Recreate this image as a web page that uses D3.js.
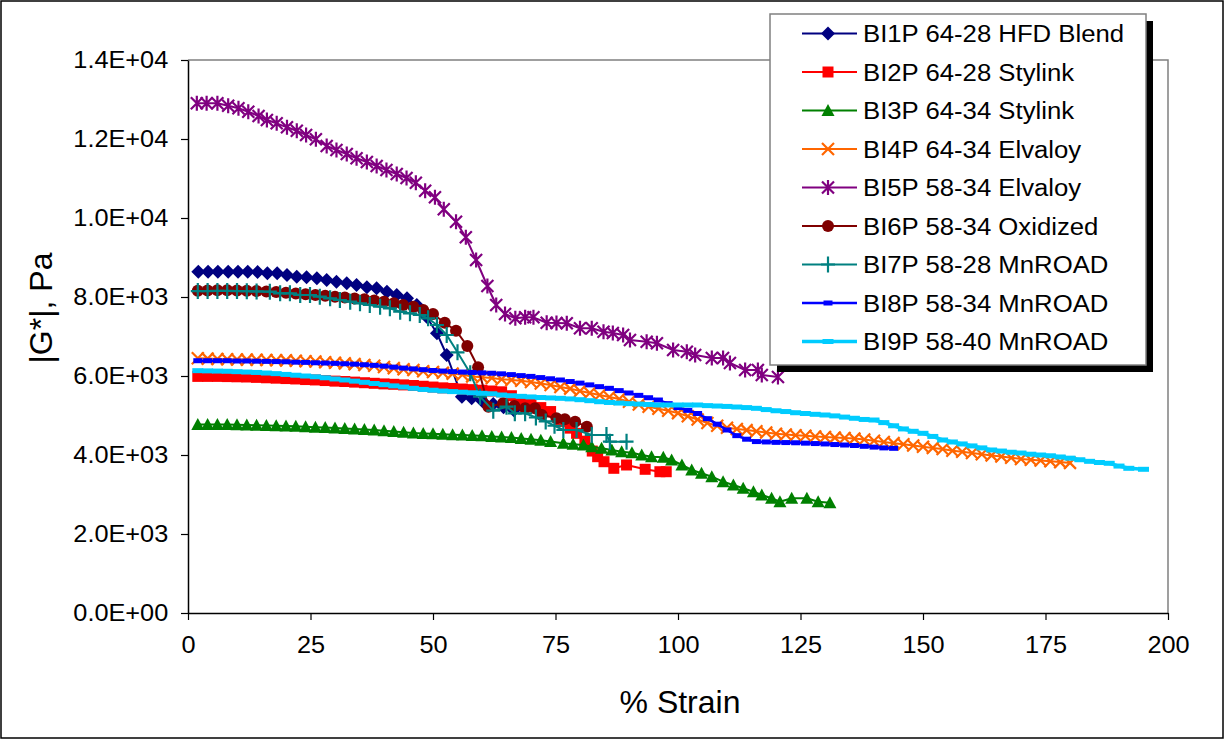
<!DOCTYPE html>
<html>
<head>
<meta charset="utf-8">
<script src="https://cdn.jsdelivr.net/npm/d3@7"></script>
<style>
  body { margin: 0; background: #fff; }
  svg text { font-family: "Liberation Sans", Arial, sans-serif; fill: #000; }
</style>
</head>
<body>
<svg class="chart" width="1225" height="740"></svg>
<script>
"use strict";
// tick values
var xTicks = [0, 25, 50, 75, 100, 125, 150, 175, 200];
var yTicks = [0, 2000, 4000, 6000, 8000, 10000, 12000, 14000];

// series names (legend order)
var seriesNames = ["BI1P 64-28 HFD Blend", "BI2P 64-28 Stylink", "BI3P 64-34 Stylink", "BI4P 64-34 Elvaloy",
  "BI5P 58-34 Elvaloy", "BI6P 58-34 Oxidized", "BI7P 58-28 MnROAD", "BI8P 58-34 MnROAD", "BI9P 58-40 MnROAD"];
var seriesColors = ["#000080", "#ff0000", "#008000", "#ff6600", "#800080", "#800000", "#008080", "#0000ff", "#00ccff"];
var seriesMarkers = ["diamond", "square", "triangle", "x", "star", "circle", "plus", "dash", "dash2"];

// [% strain, |G*| Pa]
var bi1p = [[2.1,8641],[4.1,8641],[6.1,8641],[8.2,8641],[10.2,8641],[12.2,8641],[14.2,8630],[16.2,8599],[18.2,8599],[20.2,8557],
  [22.2,8514],[24.2,8499],[26.3,8473],[28.3,8430],[30.3,8387],[32.4,8346],[34.4,8304],[36.5,8245],[38.5,8220],[40.6,8135],
  [42.6,8051],[44.7,7967],[46.7,7797],[48.7,7501],[50.8,7081],[52.8,6532],[55.9,5477],[57.9,5435],[60.1,5360],[62.3,5290],
  [64.4,5210],[66.5,5130]];
var bi2p = [[2,5990],[4,5990],[6,5990],[8,5985],[10,5980],[12,5975],[14,5965],[16,5955],[18,5945],[20,5935],[22,5925],[24,5910],
  [26,5900],[28,5885],[30,5870],[32,5860],[34,5845],[36,5830],[38,5815],[40,5800],[42,5790],[44,5775],[46,5760],[48,5740],
  [50,5720],[52,5700],[54,5685],[56,5670],[58,5655],[60,5640],[62,5620],[64,5600],[66,5500],[68,5400],[70,5300],[72,5200],
  [74,5100],[76,4850],[78,4680],[79.3,4549],[81,4350],[82.5,4100],[83.6,3957],[84.9,3830],[86.9,3663],[89.5,3747],[93.3,3638],
  [96.3,3577],[97.6,3577]];
var bi3p = [[2,4770],[4,4770],[6,4770],[8,4770],[10,4765],[12,4760],[14,4755],[16,4750],[18,4740],[20,4735],[22,4725],[24,4715],
  [26,4705],[28,4695],[30,4685],[32,4670],[34,4660],[36,4645],[38,4630],[40,4615],[42,4595],[44,4575],[46,4557],[48,4545],
  [50,4535],[52,4525],[54,4515],[56,4505],[58,4495],[60,4485],[62,4470],[64,4456],[66,4440],[68,4420],[70,4400],[72,4375],
  [74,4340],[76.6,4296],[78.6,4270],[80.7,4253],[82.4,4210],[84.4,4169],[86.5,4127],[88.5,4084],[90.6,4058],[92.6,4000],
  [94.6,3957],[97,3942],[98.7,3873],[100.8,3747],[102.8,3620],[104.8,3537],[106.9,3451],[109.2,3324],[111.3,3241],[113.3,3157],
  [115.4,3071],[117.1,2987],[119.1,2904],[120.8,2818],[123.2,2904],[126.3,2904],[128.6,2818],[131,2792]];
var bi4p = [[2,6450],[4,6440],[6,6430],[8,6425],[10,6420],[12,6415],[14,6410],[16,6405],[18,6400],[20,6395],[22,6385],[24,6375],
  [26,6365],[28,6350],[30,6335],[32,6320],[34,6300],[36,6280],[38,6260],[40,6230],[42,6200],[44,6170],[46,6150],[48,6120],
  [50,6100],[52,6080],[54,6060],[56,6030],[58,5990],[60,5970],[62,5950],[64,5920],[66,5900],[68,5880],[70,5850],[72,5810],
  [74,5770],[76,5720],[78,5680],[80,5620],[82,5570],[84,5519],[86,5470],[88,5420],[90,5350],[92,5280],[94,5220],[96,5170],
  [98,5120],[100,5060],[102,4980],[104,4900],[106,4810],[108,4740],[110,4690],[112,4660],[114,4630],[116,4600],[118,4570],
  [120,4540],[122,4520],[124,4500],[126,4485],[128,4470],[130,4455],[132,4440],[134,4430],[136,4415],[138,4390],[140,4360],
  [142,4330],[144,4300],[146,4270],[148,4240],[150,4210],[152,4180],[154,4150],[156,4110],[158,4080],[160,4050],[162,4020],
  [164,3990],[166,3960],[168,3930],[170,3900],[172,3880],[174,3860],[176,3840],[178,3820],[180,3800]];
var bi5p = [[1.8,12904],[3.8,12904],[6,12904],[8.2,12843],[10.3,12777],[12.3,12691],[14.4,12582],[16.1,12481],[18.1,12397],
  [20.2,12296],[22.2,12210],[24.1,12101],[26.1,11992],[28.3,11823],[30.3,11722],[32.4,11620],[34.4,11511],[36.5,11418],
  [38.5,11316],[40.5,11215],[42.6,11114],[44.6,11013],[46.5,10894],[48.4,10691],[50.4,10524],[52.2,10220],[54.7,9906],
  [56.7,9511],[58.8,8937],[61.1,8278],[62.9,7797],[64.7,7570],[66.8,7461],[68.8,7486],[70.5,7486],[73.2,7349],[75.2,7342],
  [77.3,7334],[80,7208],[82.4,7208],[84.8,7122],[86.7,7089],[88.8,7038],[90.2,6911],[93.6,6868],[95.7,6828],[99,6658],
  [101.8,6615],[103.5,6532],[106.9,6456],[109.2,6456],[110.6,6329],[113.7,6152],[116.3,6152],[117.1,6025],[120.4,5975]];
var bi6p = [[2,8160],[4,8165],[6,8170],[8,8170],[10,8165],[12,8160],[14,8150],[16,8140],[18,8125],[20,8110],[22,8090],[24,8070],
  [26,8050],[28,8030],[30,8008],[32,7985],[34,7960],[36,7941],[38,7910],[40,7881],[42,7840],[43.9,7797],[46,7755],[48,7671],
  [50,7570],[52.4,7349],[54.7,7147],[57,6759],[59.2,6220],[61.3,5223],[64.3,5308],[66.6,5240],[68.8,5182],[70.8,5182],
  [72.2,5013],[75.2,4929],[76.9,4904],[79,4843],[81.4,4716]];
var bi7p = [[2,8150],[4,8150],[6,8155],[8,8155],[10,8150],[12,8145],[14,8140],[16.7,8134],[18.8,8093],[20.8,8093],[22.9,8051],
  [24.9,8051],[26.9,8008],[29,7967],[31,7924],[33.1,7881],[35.1,7840],[37.1,7797],[39.2,7755],[41.2,7714],[43.3,7628],
  [45.3,7587],[47.3,7544],[49,7461],[50.8,7291],[52.8,7038],[55,6600],[57.6,6068],[59.6,5477],[62.3,5122],[65,5223],
  [66.7,5056],[68.8,5056],[71,4950],[73,4850],[74.8,4740],[76.6,4633],[79.3,4633],[82.4,4506],[85.4,4506],[86.1,4337],[89.5,4337]];
var bi8p = [[2,6387],[4,6387],[6,6387],[8,6387],[10,6380],[12,6380],[14,6375],[16,6370],[18,6365],[20,6360],[22,6350],[24,6345],
  [26,6335],[28,6328],[30,6320],[32,6310],[34,6300],[36,6285],[38,6270],[40,6250],[42,6225],[44,6200],[46,6180],[48,6160],
  [50,6140],[52,6125],[54,6110],[56,6100],[58,6090],[60,6080],[62,6070],[64,6055],[66,6035],[68,6010],[70,5990],[72,5960],
  [74,5930],[76,5899],[78,5860],[80,5820],[82,5775],[84,5730],[86,5688],[88,5630],[90,5570],[92,5510],[94,5450],[96,5392],
  [98,5300],[100,5200],[102,5130],[104,5050],[106,4920],[108,4780],[110,4633],[112,4490],[114,4400],[116,4340],[118,4330],
  [120,4320],[122,4315],[124,4310],[126,4300],[128,4290],[130,4280],[132,4265],[134,4253],[136,4240],[138,4220],[140,4200],
  [142,4180],[144,4169]];
var bi9p = [[2,6135],[4,6130],[6,6125],[8,6120],[10,6110],[12,6100],[14,6090],[16,6075],[18,6060],[20,6040],[22,6020],[24,6000],
  [26,5980],[28,5955],[30,5925],[32,5899],[34,5870],[36,5840],[38,5810],[40,5780],[42,5750],[44,5720],[46,5688],[48,5660],
  [50,5640],[52,5620],[54,5605],[56,5590],[58,5575],[60,5562],[62,5550],[64,5519],[66,5500],[68,5485],[70,5470],[72,5455],
  [74,5445],[76,5435],[78,5420],[80,5400],[82,5375],[84,5349],[86,5330],[88,5315],[90,5300],[92,5290],[94,5280],[96,5266],
  [98,5266],[100,5266],[102,5266],[104,5266],[106,5250],[108,5240],[110,5230],[112,5215],[114,5200],[116,5182],[118,5150],
  [120,5120],[122,5100],[124,5070],[126,5050],[128,5030],[130,5013],[132,4990],[134,4960],[136,4930],[138,4900],[140,4886],
  [142,4820],[144,4740],[146,4660],[148,4600],[150,4549],[152,4470],[154,4380],[156,4330],[158,4280],[160,4230],[162,4180],
  [164,4127],[166,4100],[168,4070],[170,4050],[172,4020],[174,4000],[176,3980],[178,3950],[180,3920],[182,3880],[184,3840],
  [186,3810],[188,3790],[190,3720],[192,3663],[195,3638]];
var seriesData = [bi1p, bi2p, bi3p, bi4p, bi5p, bi6p, bi7p, bi8p, bi9p];

var svg = d3.select(".chart");
var plotLeft = 188, plotRight = 1168, plotTop = 60, plotBottom = 613;

var x = d3.scaleLinear().domain([0, 200]).range([plotLeft, plotRight]);
var y = d3.scaleLinear().domain([0, 14000]).range([plotBottom, plotTop]);

// 2000 -> "2.0E+03"
function sci(v) {
	if (v === 0) return "0.0E+00";
	var e = Math.floor(Math.log10(v));
	return (v / Math.pow(10, e)).toFixed(1) + "E+" + String(e).padStart(2, "0");
}

// marker shapes, centred on 0,0
var markerPaths = {
	diamond: "M0,-7L7,0L0,7L-7,0Z",
	square: "M-5.5,-5.5h11v11h-11Z",
	triangle: "M0,-6.5L6.5,5.5L-6.5,5.5Z",
	circle: "M-6,0a6,6 0 1,0 12,0a6,6 0 1,0 -12,0",
	x: "M-6,-6L6,6M-6,6L6,-6",
	star: "M-6,-6L6,6M-6,6L6,-6M0,-7.5V7.5",
	plus: "M-7,0H7M0,-8V8",
	dash: "M-4.5,-2.5h9v5h-9Z",
	dash2: "M-5.5,-2.5h11v5h-11Z"
};
var strokeMarkers = {x: true, star: true, plus: true};
var lineWidths = [2, 2, 2, 2, 2, 2, 2, 2.5, 3.5];

function styleMarker(sel, i) {
	var m = seriesMarkers[i];
	sel.attr("d", markerPaths[m])
		.attr("fill", strokeMarkers[m] ? "none" : seriesColors[i])
		.attr("stroke", strokeMarkers[m] ? seriesColors[i] : "none")
		.attr("stroke-width", 2.2);
}

// outer frame
svg.append("rect")
	.attr("x", 1).attr("y", 1)
	.attr("width", 1222).attr("height", 737)
	.attr("fill", "none").attr("stroke", "#000").attr("stroke-width", 1.5);

// plot area border (top / right in gray)
svg.append("path")
	.attr("d", "M" + plotLeft + "," + plotTop + "H" + plotRight + "V" + plotBottom)
	.attr("fill", "none").attr("stroke", "#808080").attr("stroke-width", 1.5);

// axes
var yAxis = svg.append("g")
	.attr("transform", "translate(" + plotLeft + ",0)")
	.call(d3.axisLeft(y).tickValues(yTicks).tickFormat(sci).tickSize(7).tickSizeOuter(0).tickPadding(11));
var xAxis = svg.append("g")
	.attr("transform", "translate(0," + plotBottom + ")")
	.call(d3.axisBottom(x).tickValues(xTicks).tickFormat(d3.format("d")).tickSize(7).tickSizeOuter(0).tickPadding(17));
[yAxis, xAxis].forEach(function(a) {
	a.select(".domain").attr("stroke", "#000").attr("stroke-width", 1.5);
	a.selectAll(".tick line").attr("stroke", "#000").attr("stroke-width", 1.2);
	a.selectAll(".tick text")
		.attr("font-size", 23)
		.attr("font-family", "'Liberation Sans', Arial, sans-serif")
		.attr("fill", "#000")
		.attr("transform", "scale(1.1,1)");
});

// axis titles
svg.append("text")
	.attr("x", 680).attr("y", 713)
	.attr("text-anchor", "middle")
	.attr("font-size", 32)
	.text("% Strain");
svg.append("text")
	.attr("transform", "translate(52,308) rotate(-90)")
	.attr("text-anchor", "middle")
	.attr("font-size", 32)
	.text("|G*|, Pa");

// series lines and markers, drawn in order so the last one sits on top
var line = d3.line()
	.x(function(d) { return x(d[0]); })
	.y(function(d) { return y(d[1]); });

var plot = svg.append("g");
seriesData.forEach(function(data, i) {
	var g = plot.append("g");
	g.append("path")
		.attr("d", line(data))
		.attr("fill", "none")
		.attr("stroke", seriesColors[i])
		.attr("stroke-width", lineWidths[i])
		.attr("stroke-linejoin", "round");
	g.selectAll("path.mk")
		.data(data)
		.enter()
		.append("path")
		.attr("class", "mk")
		.attr("transform", function(d) { return "translate(" + x(d[0]) + "," + y(d[1]) + ")"; })
		.call(styleMarker, i);
});

// legend with drop shadow
var legend = svg.append("g");
legend.append("rect")
	.attr("x", 777).attr("y", 21)
	.attr("width", 376).attr("height", 351)
	.attr("fill", "#000");
legend.append("rect")
	.attr("x", 770).attr("y", 14)
	.attr("width", 376).attr("height", 351)
	.attr("fill", "#fff").attr("stroke", "#808080").attr("stroke-width", 1.5);

var legendEntry = legend.selectAll("g.entry")
	.data(seriesNames)
	.enter()
	.append("g")
	.attr("class", "entry")
	.attr("transform", function(d, i) { return "translate(0," + (33.5 + i * 38.5) + ")"; });
legendEntry.append("line")
	.attr("x1", 802).attr("x2", 857)
	.attr("stroke", function(d, i) { return seriesColors[i]; })
	.attr("stroke-width", function(d, i) { return lineWidths[i]; });
legendEntry.each(function(d, i) {
	d3.select(this).append("path")
		.attr("transform", "translate(828,0)")
		.call(styleMarker, i);
});
legendEntry.append("text")
	.attr("transform", "translate(863,8.5) scale(1.05,1)")
	.attr("font-size", 24.5)
	.text(function(d) { return d; });
</script>
</body>
</html>
